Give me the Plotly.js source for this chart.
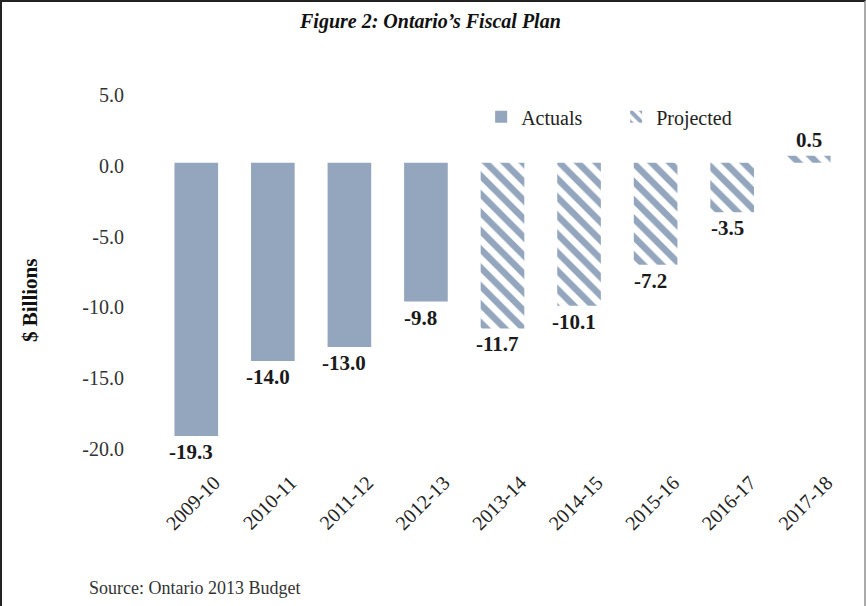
<!DOCTYPE html>
<html>
<head>
<meta charset="utf-8">
<script src="https://cdn.plot.ly/plotly-3.0.1.min.js"></script>
<style>
  html, body { margin: 0; padding: 0; background: #fff; }
  #frame { position: absolute; left: 0; top: 0; width: 866px; height: 606px; box-sizing: border-box;
           border-top: 2px solid #222; border-left: 2px solid #222; border-right: 2px solid #aaa; }
  #chart { position: absolute; left: 0; top: 0; width: 866px; height: 606px; }
</style>
</head>
<body>
<div id="chart"></div>
<div id="frame"></div>
<script>
const years = ["2009-10","2010-11","2011-12","2012-13","2013-14","2014-15","2015-16","2016-17","2017-18"];
const balance = [-19.3, -14.0, -13.0, -9.8, -11.7, -10.1, -7.2, -3.5, 0.5];
const actualYears = years.slice(0, 4);
const actualValues = balance.slice(0, 4);
const projectedYears = years.slice(4);
const projectedValues = balance.slice(4);
const yTicks = [5, 0, -5, -10, -15, -20];

const barColor = "#93a6bd";
const serif = "Liberation Serif, Times New Roman, serif";

const traces = [
  {
    type: "bar", name: "Actuals", x: actualYears, y: actualValues,
    marker: { color: barColor, line: { width: 0 } },
    hoverinfo: "skip"
  },
  {
    type: "bar", name: "Projected", x: projectedYears, y: projectedValues,
    marker: { color: barColor, line: { width: 0 },
              pattern: { shape: "\\", fgcolor: barColor, bgcolor: "#ffffff", size: 13, solidity: 0.5, fillmode: "replace" } },
    hoverinfo: "skip"
  }
];

const labelAnns = years.map((yr, i) => ({
  x: yr, y: balance[i], xref: "x", yref: "y",
  text: "<b>" + balance[i].toFixed(1) + "</b>",
  showarrow: false,
  yanchor: balance[i] < 0 ? "top" : "bottom",
  yshift: balance[i] < 0 ? -2 : 2,
  xshift: balance[i] < 0 ? -5 : 0,
  font: { family: serif, size: 21, color: "#1a1a1a" }
}));

const layout = {
  width: 866, height: 606,
  margin: { l: 158, r: 19, t: 92, b: 160 },
  paper_bgcolor: "#ffffff", plot_bgcolor: "#ffffff",
  font: { family: serif, color: "#333" },
  title: { text: "<b><i>Figure 2: Ontario’s Fiscal Plan</i></b>", x: 0.497, xanchor: "center", y: 0.965, yanchor: "middle",
           font: { family: serif, size: 20, color: "#111" } },
  barmode: "overlay",
  bargap: 0.43,
  showlegend: true,
  legend: { orientation: "h", x: 0.469, xanchor: "left", y: 0.93, yanchor: "middle",
            font: { family: serif, size: 20, color: "#222" },
            entrywidth: 90, entrywidthmode: "pixels", bgcolor: "rgba(0,0,0,0)" },
  xaxis: {
    type: "category", categoryorder: "array", categoryarray: years,
    tickangle: -45, ticks: "", showline: false, showgrid: false, zeroline: false,
    ticklabelstandoff: 20, ticklabelshift: 18,
    tickfont: { family: serif, size: 20, color: "#222" }
  },
  yaxis: {
    range: [-20, 5], tickvals: yTicks, ticktext: yTicks.map(v => v.toFixed(1)),
    ticks: "", showline: false, showgrid: false, zeroline: false,
    ticklabelstandoff: 33, ticklabelshift: 3,
    tickfont: { family: serif, size: 20, color: "#333" }
  },
  annotations: labelAnns.concat([
    { text: "<b>$ Billions</b>", xref: "paper", yref: "paper", x: -0.186, xanchor: "center", y: 0.412, yanchor: "middle",
      textangle: -90, showarrow: false, font: { family: serif, size: 21, color: "#111" } },
    { text: "Source: Ontario 2013 Budget", xref: "paper", yref: "paper", x: -0.103, xanchor: "left",
      y: -0.40, yanchor: "middle", showarrow: false, font: { family: serif, size: 18, color: "#333" } }
  ])
};

Plotly.newPlot("chart", traces, layout, { displayModeBar: false, staticPlot: true });
</script>
</body>
</html>
